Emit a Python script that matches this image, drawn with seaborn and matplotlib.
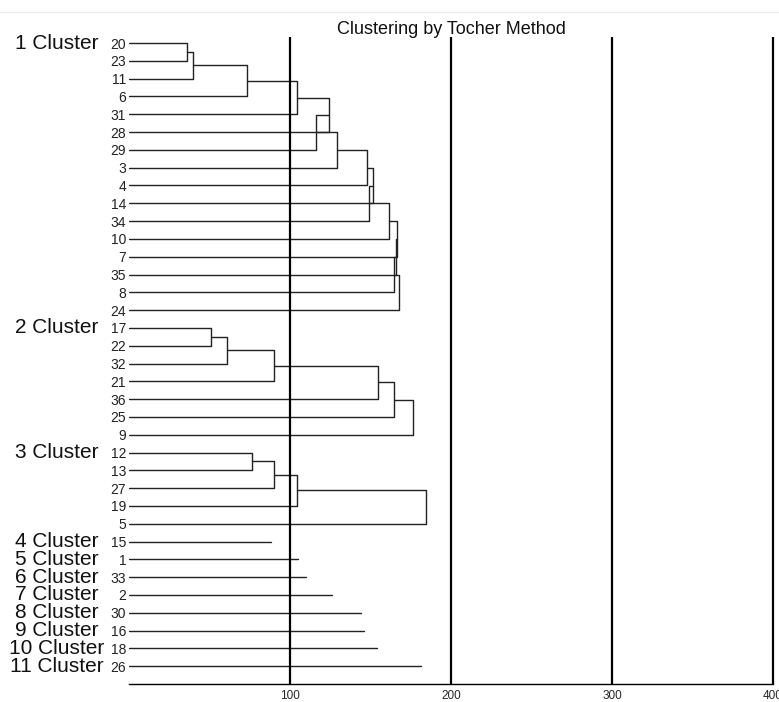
import matplotlib
matplotlib.use("Agg")
import matplotlib.pyplot as plt
from matplotlib.transforms import blended_transform_factory
import pandas as pd
import seaborn as sns

# leaves of each Tocher cluster (top to bottom) and the distance at which each leaf joins the group
cluster1_leaves = [20, 23, 11, 6, 31, 28, 29, 3, 4, 14, 34, 10, 7, 35, 8, 24]
cluster1_joins = [35.8, 39.6, 73.5, 104.2, 124.4, 116.1, 129.4, 147.6, 151.4, 149.3, 161.5, 166.3, 165.7, 164.8, 167.7]
cluster2_leaves = [17, 22, 32, 21, 36, 25, 9]
cluster2_joins = [50.9, 60.9, 89.9, 154.8, 164.8, 176.2]
cluster3_leaves = [12, 13, 27, 19, 5]
cluster3_joins = [76.2, 90.3, 104.3, 184.5]
single_leaves = [15, 1, 33, 2, 30, 16, 18, 26]
single_dist = [88.0, 105.2, 109.9, 125.9, 144.1, 146.2, 154.2, 181.2]
x_ticks = [100, 200, 300, 400]

sns.set_style("white")
plt.rcParams["font.family"] = ["Liberation Sans", "DejaVu Sans"]

# build the segments as polylines (one per join)
rows = []
labels = []
seg = 0
row = 0
cluster_rows = []
for leaves, joins in [(cluster1_leaves, cluster1_joins),
                      (cluster2_leaves, cluster2_joins),
                      (cluster3_leaves, cluster3_joins)]:
    cluster_rows.append(row)
    labels.extend(leaves)
    node_x, node_y = 0, row
    for i, h in enumerate(joins):
        leaf_y = row + i + 1
        for px, py in [(node_x, node_y), (h, node_y), (h, leaf_y), (0, leaf_y)]:
            rows.append({"x": px, "y": py, "seg": seg})
        seg += 1
        node_x, node_y = h, (node_y + leaf_y) / 2
    row += len(leaves)
for leaf, d in zip(single_leaves, single_dist):
    cluster_rows.append(row)
    labels.append(leaf)
    for px in [0, d]:
        rows.append({"x": px, "y": row, "seg": seg})
    seg += 1
    row += 1
df = pd.DataFrame(rows)

fig = plt.figure(figsize=(7.79, 7.02), dpi=100)
ax = fig.add_axes([129 / 779, 18 / 702, 650 / 779, 647 / 702])

sns.lineplot(data=df, x="x", y="y", units="seg", estimator=None, sort=False,
             color="#222222", linewidth=1, ax=ax)

for v in x_ticks:
    ax.axvline(v, color="black", lw=1.6)

ax.set_xlim(0, 650 / 1.61)
ax.set_ylim(len(labels), -0.34)
ax.set_xticks(x_ticks)
ax.set_xticklabels([str(t) for t in x_ticks], fontsize=8.5)
ax.set_yticks(range(len(labels)))
ax.set_yticklabels([str(l) for l in labels], fontsize=10, color="#222222")
ax.tick_params(axis="y", length=0, pad=2)
ax.tick_params(axis="x", length=3, width=1.5, pad=1.5)
ax.set_xlabel("")
ax.set_ylabel("")
for s in ["top", "right", "left"]:
    ax.spines[s].set_visible(False)
ax.spines["bottom"].set_bounds(0, 400)
ax.spines["bottom"].set_linewidth(1)
ax.spines["bottom"].set_color("black")

trans = blended_transform_factory(fig.transFigure, ax.transData)
for i, r in enumerate(cluster_rows):
    ax.text(57 / 779, r, f"{i + 1} Cluster", transform=trans, ha="center",
            va="center", fontsize=15, color="#111111")

fig.text(451 / 779, 1 - 30 / 702, "Clustering by Tocher Method", ha="center",
         va="center", fontsize=13, color="#111111")
fig.add_artist(plt.Line2D([0, 1], [1 - 12 / 702, 1 - 12 / 702],
                          transform=fig.transFigure, color="#ececec", lw=1))

fig.savefig("out.png", dpi=100)
